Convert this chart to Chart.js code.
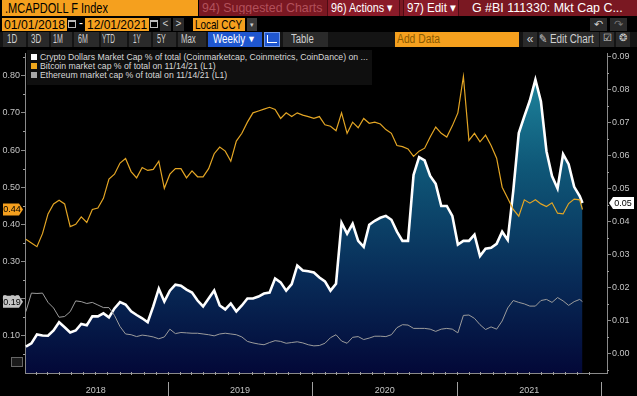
<!DOCTYPE html>
<html>
<head>
<meta charset="utf-8">
<script src="https://cdn.jsdelivr.net/npm/chart.js@4.4.1/dist/chart.umd.min.js"></script>
<style>
  body { margin: 0; width: 637px; height: 396px; background: #000; overflow: hidden; position: relative;
         font-family: "Liberation Sans", Arial, sans-serif; }
  .box { position: absolute; box-sizing: border-box; white-space: nowrap; line-height: 1; overflow: hidden; }
  .fit { display: inline-block; transform-origin: 0 50%; white-space: nowrap; }
  .orange { background: #f5a01e; color: #000; }
  .red { background: #7a1822; }
  .btn { background: #2a2a2a; color: #d0d0d0; font-size: 12px; text-align: center; padding-top: 1px; }
  #legend { position: absolute; left: 27px; top: 50px; width: 345px; height: 35px; background: #0f0f0f;
            font-size: 8.7px; color: #d8d8d8; padding: 3px 0 0 4px; box-sizing: border-box; }
  #legend div { height: 9px; line-height: 9px; white-space: nowrap; }
  #legend span { display: inline-block; width: 6px; height: 6px; margin-right: 3px; vertical-align: 0px; }
  #chartWrap { position: absolute; left: 0; top: 47px; width: 637px; height: 349px; }
</style>
</head>
<body>
<!-- row 1 -->
<div class="box orange" style="left:2px;top:0;width:196px;height:16px;font-size:14px;padding:1px 0 0 3px;"><span class="fit" data-w="103">.MCAPDOLL F Index</span></div>
<div class="box red" style="left:199px;top:0;width:438px;height:16px;"></div>
<div class="box" style="left:202px;top:1px;font-size:13px;color:#b2505b;"><span class="fit" data-w="120">94) Suggested Charts</span></div>
<div class="box" style="left:327px;top:0;width:73px;height:16px;background:#8a1b29;border-left:1px solid #4e0c14;border-right:1px solid #4e0c14;color:#fff;font-size:13px;padding:1px 0 0 3px;"><span class="fit" data-w="62">96) Actions &#9662;</span></div>
<div class="box" style="left:403px;top:0;width:56px;height:16px;background:#8a1b29;border-left:1px solid #4e0c14;border-right:1px solid #4e0c14;color:#fff;font-size:13px;padding:1px 0 0 3px;"><span class="fit" data-w="49">97) Edit &#9662;</span></div>
<div class="box" style="left:472px;top:1px;color:#fff;font-size:13px;"><span class="fit" data-w="151">G #BI 111330: Mkt Cap C...</span></div>
<!-- row 2 -->
<div class="box orange" style="left:2px;top:18px;width:65px;height:13px;font-size:13px;padding:0 0 0 2px;"><span class="fit" data-w="61">01/01/2018</span></div>
<div class="box" style="left:68px;top:20px;width:8px;height:8px;border:1px solid #bbb;border-top-width:2px;"></div>
<div class="box" style="left:79px;top:17px;color:#fff;font-size:12px;">-</div>
<div class="box orange" style="left:85px;top:18px;width:64px;height:13px;font-size:13px;padding:0 0 0 2px;"><span class="fit" data-w="60">12/01/2021</span></div>
<div class="box" style="left:150px;top:20px;width:8px;height:8px;border:1px solid #bbb;border-top-width:2px;"></div>
<div class="box btn" style="left:160px;top:18px;width:11px;height:13px;font-size:10px;">&lt;</div>
<div class="box btn" style="left:173px;top:18px;width:11px;height:13px;font-size:10px;">&gt;</div>
<div class="box orange" style="left:193px;top:18px;width:52px;height:13px;font-size:13px;padding:0 0 0 2px;"><span class="fit" data-w="47">Local CCY</span></div>
<div class="box" style="left:247px;top:18px;width:10px;height:13px;background:#3a3a3a;color:#ccc;font-size:7px;text-align:center;padding-top:3px;">&#9662;</div>
<div class="box btn" style="left:590px;top:18px;width:17px;height:13px;font-size:11px;">&#8630;</div>
<div class="box btn" style="left:610px;top:18px;width:17px;height:13px;font-size:11px;color:#777;">&#8631;</div>
<!-- row 3 -->
<div class="box" style="left:0;top:32px;width:637px;height:15px;background:#141414;"></div>
<div class="box btn" style="left:3px;top:32px;width:23px;height:15px;"><span class="fit" data-w="10">1D</span></div>
<div class="box btn" style="left:28px;top:32px;width:21px;height:15px;"><span class="fit" data-w="10">3D</span></div>
<div class="box btn" style="left:51px;top:32px;width:21px;height:15px;"><span class="fit" data-w="10">1M</span></div>
<div class="box btn" style="left:74px;top:32px;width:25px;height:15px;"><span class="fit" data-w="10">6M</span></div>
<div class="box btn" style="left:101px;top:32px;width:26px;height:15px;"><span class="fit" data-w="13">YTD</span></div>
<div class="box btn" style="left:129px;top:32px;width:22px;height:15px;"><span class="fit" data-w="8">1Y</span></div>
<div class="box btn" style="left:153px;top:32px;width:23px;height:15px;"><span class="fit" data-w="9">5Y</span></div>
<div class="box btn" style="left:178px;top:32px;width:28px;height:15px;"><span class="fit" data-w="15">Max</span></div>
<div class="box" style="left:208px;top:32px;width:54px;height:15px;background:#1f56cf;color:#fff;font-size:12px;padding:1px 0 0 5px;"><span class="fit" data-w="32">Weekly</span></div>
<div class="box" style="left:247px;top:35px;color:#fff;font-size:9px;">&#9660;</div>
<div class="box" style="left:264px;top:32px;width:16px;height:15px;background:#1f56cf;border:1px solid #6d95e8;"></div>
<div class="box" style="left:267px;top:35px;width:10px;height:8px;border-left:1px solid #fff;border-bottom:1px solid #fff;"></div>
<div class="box btn" style="left:283px;top:32px;width:45px;height:15px;"><span class="fit" data-w="23">Table</span></div>
<div class="box" style="left:395px;top:32px;width:124px;height:15px;background:#f5a01e;color:#8a5a00;font-size:12px;padding:1px 0 0 2px;"><span class="fit" data-w="43">Add Data</span></div>
<div class="box btn" style="left:523px;top:32px;width:14px;height:15px;">&laquo;</div>
<div class="box btn" style="left:539px;top:32px;width:60px;height:15px;"><span class="fit" data-w="55">&#9998; Edit Chart</span></div>
<div class="box btn" style="left:600px;top:32px;width:14px;height:15px;font-size:10px;">&#9745;</div>
<div class="box btn" style="left:616px;top:32px;width:14px;height:15px;font-size:10px;">&#10050;</div>

<div id="chartWrap"><canvas id="chart" width="637" height="349"></canvas></div>

<div id="legend">
  <div><span style="background:#fff"></span>Crypto Dollars Market Cap % of total (Coinmarketcap, Coinmetrics, CoinDance) on ...</div>
  <div><span style="background:#f0a81c"></span>Bitcoin market cap % of total on 11/14/21 (L1)</div>
  <div><span style="background:#a8a8a8"></span>Ethereum market cap % of total on 11/14/21 (L1)</div>
</div>
<div class="box" style="left:11px;top:357px;width:12px;height:10px;border:1px solid #666;background:#1a1a1a;"></div>

<script>
// squeeze header labels to the narrow terminal font width
document.querySelectorAll('.fit').forEach(el => {
    const w = +el.dataset.w;
    el.style.transform = `scaleX(${w / el.offsetWidth})`;
});

// biweekly observation dates, Jan 2018 - Nov 2021
const startDate = '2018-01-07';
const stepDays = 14;
const lastDate = '2021-11-14';
const yearLabels = ['2018', '2019', '2020', '2021'];

// Bitcoin market cap % of total (left axis)
const btcShare = [0.36,0.35,0.34,0.375,0.428,0.455,0.465,0.455,0.394,0.40,
  0.42,0.405,0.44,0.444,0.47,0.522,0.535,0.565,0.577,0.542,
  0.525,0.553,0.545,0.548,0.57,0.497,0.535,0.55,0.55,0.525,
  0.544,0.528,0.528,0.55,0.59,0.608,0.597,0.57,0.624,0.645,
  0.675,0.70,0.705,0.71,0.715,0.709,0.685,0.70,0.69,0.70,
  0.694,0.69,0.685,0.69,0.668,0.664,0.652,0.70,0.645,0.675,
  0.66,0.685,0.672,0.675,0.67,0.655,0.645,0.612,0.609,0.603,
  0.583,0.597,0.605,0.635,0.662,0.645,0.635,0.665,0.70,0.798,
  0.626,0.645,0.622,0.64,0.612,0.578,0.50,0.47,0.44,0.422,
  0.466,0.457,0.466,0.455,0.448,0.458,0.43,0.428,0.456,0.468,
  0.466,0.44];

// Ethereum market cap % of total (left axis)
const ethShare = [0.165,0.215,0.214,0.215,0.19,0.175,0.15,0.152,0.165,0.194,
  0.192,0.187,0.19,0.183,0.176,0.176,0.155,0.125,0.105,0.103,
  0.098,0.102,0.10,0.097,0.092,0.097,0.118,0.106,0.109,0.108,
  0.107,0.107,0.105,0.103,0.10,0.105,0.107,0.105,0.103,0.097,
  0.085,0.081,0.078,0.076,0.082,0.087,0.085,0.08,0.082,0.084,
  0.081,0.076,0.073,0.074,0.08,0.095,0.103,0.086,0.08,0.096,
  0.098,0.09,0.094,0.099,0.099,0.098,0.103,0.122,0.13,0.129,
  0.12,0.12,0.12,0.118,0.112,0.118,0.12,0.118,0.108,0.155,
  0.156,0.147,0.13,0.117,0.124,0.118,0.14,0.175,0.195,0.19,
  0.186,0.18,0.18,0.195,0.198,0.19,0.203,0.194,0.182,0.192,
  0.198,0.192];

// Crypto dollars (stablecoins) market cap % of total (right axis)
const cryptoDollarShare = [0.002,0.003,0.0057,0.0054,0.0053,0.0069,0.0094,0.0079,0.0063,0.0069,
  0.0089,0.0085,0.0112,0.0112,0.0121,0.0109,0.0136,0.0155,0.0148,0.0127,
  0.0116,0.0106,0.0094,0.0142,0.0196,0.0157,0.019,0.0208,0.0205,0.0193,
  0.0184,0.016,0.0142,0.0166,0.019,0.0145,0.0133,0.0151,0.0127,0.0145,
  0.0166,0.0166,0.0172,0.0181,0.0184,0.0227,0.0215,0.019,0.021,0.0266,
  0.0251,0.0249,0.0245,0.023,0.0218,0.019,0.0211,0.0396,0.0363,0.0393,
  0.0341,0.0323,0.039,0.0402,0.0411,0.0417,0.0405,0.0369,0.0341,0.0341,
  0.0541,0.0595,0.0585,0.0538,0.0514,0.0447,0.0447,0.0417,0.033,0.0341,
  0.0341,0.036,0.0295,0.0317,0.032,0.0332,0.0369,0.0344,0.0492,0.0668,
  0.0719,0.0767,0.083,0.0764,0.0613,0.0538,0.05,0.0604,0.0574,0.0505,
  0.0477,0.0456];

const leftTicks = [0.1, 0.2, 0.3, 0.4, 0.5, 0.6, 0.7, 0.8];
const rightTicks = [0, 0.01, 0.02, 0.03, 0.04, 0.05, 0.06, 0.07, 0.08, 0.09];

const DAY = 86400000;
const origin = Date.UTC(2018, 0, 1);
const toDay = s => (Date.parse(s + 'T00:00:00Z') - origin) / DAY;

const days = btcShare.slice(0, -1).map((_, k) => toDay(startDate) + stepDays * k);
days.push(toDay(lastDate));
const yearStarts = [2018, 2019, 2020, 2021, 2022].map(y => (Date.UTC(y, 0, 1) - origin) / DAY);

const pts = arr => arr.map((v, i) => ({ x: days[i], y: v }));

const areaGradient = (ctx) => {
    const area = ctx.chart.chartArea;
    if (!area) return 'rgba(10,40,80,1)';
    const g = ctx.chart.ctx.createLinearGradient(0, area.top, 0, area.bottom);
    g.addColorStop(0, '#2190a6');
    g.addColorStop(0.35, '#0f5878');
    g.addColorStop(0.7, '#082c58');
    g.addColorStop(1, '#030838');
    return g;
};

// minor ticks, year dividers and last-value tags
const decorations = {
    id: 'decorations',
    afterDraw(chart) {
        const { ctx, chartArea: a, scales } = chart;
        const x = scales.x, yl = scales.yL, yr = scales.yR;
        ctx.save();
        ctx.strokeStyle = '#a0a0a0';
        ctx.lineWidth = 1;
        ctx.beginPath();
        for (let v = 0.05; v < 0.86; v += 0.1) {
            const py = Math.round(yl.getPixelForValue(v)) + 0.5;
            ctx.moveTo(a.left - 2, py); ctx.lineTo(a.left, py);
        }
        for (let v = -0.005; v < 0.091; v += 0.01) {
            const py = Math.round(yr.getPixelForValue(v)) + 0.5;
            if (py > a.bottom || py < a.top) continue;
            ctx.moveTo(a.right, py); ctx.lineTo(a.right + 2, py);
        }
        for (let y = 2018; y < 2022; y++) {
            for (let m = 0; m < 12; m++) {
                const px = Math.round(x.getPixelForValue((Date.UTC(y, m, 1) - origin) / DAY)) + 0.5;
                if (px <= a.left || px >= a.right) continue;
                ctx.moveTo(px, a.bottom - 1); ctx.lineTo(px, a.bottom + 2);
            }
        }
        yearStarts.slice(1).forEach(d => {
            const px = Math.round(x.getPixelForValue(d)) + 0.5;
            ctx.moveTo(px, a.bottom + 9); ctx.lineTo(px, chart.height);
        });
        ctx.stroke();

        ctx.font = '9px "Liberation Sans", sans-serif';
        ctx.textAlign = 'center';
        ctx.textBaseline = 'middle';
        const leftTag = (val, fill) => {
            const py = yl.getPixelForValue(val);
            ctx.fillStyle = fill;
            ctx.beginPath();
            ctx.moveTo(3, py - 6); ctx.lineTo(19, py - 6); ctx.lineTo(23, py);
            ctx.lineTo(19, py + 6); ctx.lineTo(3, py + 6); ctx.closePath();
            ctx.fill();
            ctx.fillStyle = '#000';
            ctx.fillText(val.toFixed(2), 12, py + 0.5);
        };
        leftTag(btcShare[btcShare.length - 1], '#f5a01e');
        leftTag(ethShare[ethShare.length - 1], '#c4c4c4');

        const last = cryptoDollarShare[cryptoDollarShare.length - 1];
        const py = yr.getPixelForValue(last);
        ctx.fillStyle = '#fff';
        ctx.beginPath();
        ctx.moveTo(609, py); ctx.lineTo(613, py - 6); ctx.lineTo(634, py - 6);
        ctx.lineTo(634, py + 6); ctx.lineTo(613, py + 6); ctx.closePath();
        ctx.fill();
        ctx.fillStyle = '#000';
        ctx.fillText(last.toFixed(2), 623, py + 0.5);
        ctx.restore();
    }
};

const tickFont = { family: '"Liberation Sans", sans-serif', size: 9 };

new Chart(document.getElementById('chart'), {
    type: 'line',
    data: {
        datasets: [
            {
                label: 'Bitcoin market cap % of total on 11/14/21 (L1)',
                data: pts(btcShare), yAxisID: 'yL', order: 1,
                borderColor: '#e3a524', borderWidth: 1.2, pointRadius: 0, tension: 0
            },
            {
                label: 'Ethereum market cap % of total on 11/14/21 (L1)',
                data: pts(ethShare), yAxisID: 'yL', order: 2,
                borderColor: '#9c9c9c', borderWidth: 1, pointRadius: 0, tension: 0
            },
            {
                label: 'Crypto Dollars Market Cap % of total (Coinmarketcap, Coinmetrics, CoinDance)',
                data: pts(cryptoDollarShare), yAxisID: 'yR', order: 3,
                borderColor: '#ffffff', borderWidth: 2.6, pointRadius: 0, tension: 0,
                fill: 'start', backgroundColor: areaGradient
            }
        ]
    },
    options: {
        responsive: false,
        animation: false,
        devicePixelRatio: 1,
        layout: { padding: { top: 3 } },
        plugins: { legend: { display: false }, tooltip: { enabled: false } },
        scales: {
            x: {
                type: 'linear', min: 3.8, max: 1475,
                afterFit: s => { s.height = 23; },
                afterBuildTicks: s => {
                    s.ticks = yearLabels.map((_, i) => ({ value: (yearStarts[i] + yearStarts[i + 1]) / 2 }));
                },
                ticks: {
                    color: '#c4c4c4', font: tickFont, padding: 4, maxRotation: 0, autoSkip: false,
                    callback: (v, i) => yearLabels[i]
                },
                grid: { display: false },
                border: { display: true, color: '#8a8a8a' }
            },
            yL: {
                position: 'left', min: 0, max: 0.86,
                afterFit: s => { s.width = 25; },
                afterBuildTicks: s => { s.ticks = leftTicks.map(v => ({ value: v })); },
                ticks: { color: '#c4c4c4', font: tickFont, padding: 1, callback: v => v.toFixed(2) },
                grid: { drawOnChartArea: false, drawTicks: true, tickLength: 4, color: '#8a8a8a' },
                border: { display: true, color: '#8a8a8a' }
            },
            yR: {
                position: 'right', min: -0.006, max: 0.091,
                afterFit: s => { s.width = 30; },
                afterBuildTicks: s => { s.ticks = rightTicks.map(v => ({ value: v })); },
                ticks: { color: '#c4c4c4', font: tickFont, padding: 1, callback: v => v.toFixed(2) },
                grid: { drawOnChartArea: false, drawTicks: true, tickLength: 4, color: '#8a8a8a' },
                border: { display: true, color: '#8a8a8a' }
            }
        }
    },
    plugins: [decorations]
});
</script>
</body>
</html>
